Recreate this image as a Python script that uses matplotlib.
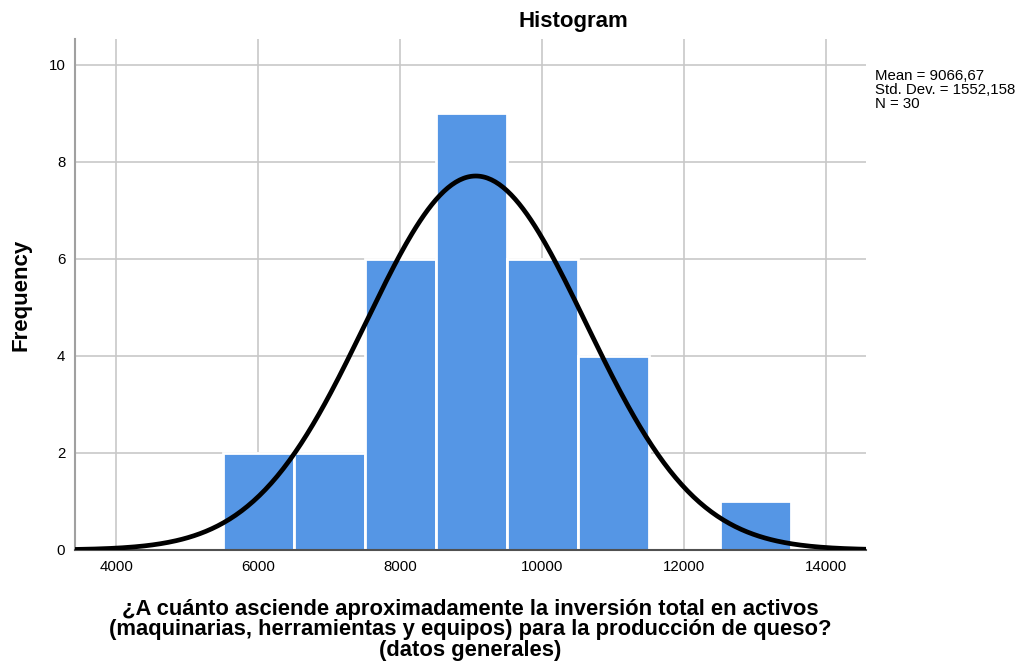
import numpy as np
import matplotlib
matplotlib.use("Agg")
from matplotlib import pyplot as plt

plt.rcParams['font.family'] = ['Liberation Sans', 'DejaVu Sans']

# bin centres and counts of the histogram
bin_centers = [6000, 7000, 8000, 9000, 10000, 11000, 12000, 13000]
counts = [2, 2, 6, 9, 6, 4, 0, 1]
bin_width = 1000

mean = 9066.67
std = 1552.158
n = 30

x_ticks = [4000, 6000, 8000, 10000, 12000, 14000]
y_ticks = [0, 2, 4, 6, 8, 10]

fig = plt.figure(figsize=(10.18, 6.61), dpi=100)
ax = fig.add_axes([0.0737, 0.168, 0.777, 0.773])

ax.bar(bin_centers, counts, width=bin_width, color='#5596e5',
       edgecolor='white', linewidth=2, zorder=2)

# fitted normal curve scaled to counts
xs = np.linspace(3422, 14563, 400)
ys = n * bin_width * np.exp(-0.5 * ((xs - mean) / std) ** 2) / (std * np.sqrt(2 * np.pi))
ax.plot(xs, ys, color='black', linewidth=3.4, zorder=3, solid_capstyle='butt')

ax.set_xlim(3422, 14563)
ax.set_ylim(0, 10.536)
ax.set_xticks(x_ticks)
ax.set_yticks(y_ticks)
ax.grid(True, color='#c8c8c8', linewidth=1.2, zorder=0)
ax.set_axisbelow(True)
ax.tick_params(length=0, labelsize=10.8, pad=7)

for s in ['top', 'right']:
    ax.spines[s].set_visible(False)
ax.spines['left'].set_color('#a0a0a0')
ax.spines['left'].set_linewidth(1.5)
ax.spines['bottom'].set_color('#505050')
ax.spines['bottom'].set_linewidth(1.5)

ax.set_ylabel('Frequency', fontsize=16, fontweight='bold', labelpad=12)
ax.set_xlabel('¿A cuánto asciende aproximadamente la inversión total en activos\n'
              '(maquinarias, herramientas y equipos) para la producción de queso?\n'
              '(datos generales)', fontsize=15.8, fontweight='bold', labelpad=18,
              linespacing=0.98)

fig.text(573 / 1018, 1 - 22 / 661, 'Histogram', ha='center', va='center',
         fontsize=16, fontweight='bold')
fig.text(875 / 1018, 1 - 69 / 661,
         'Mean = 9066,67\nStd. Dev. = 1552,158\nN = 30',
         ha='left', va='top', fontsize=10.8, linespacing=1.0)

fig.savefig('out.png', dpi=100)
